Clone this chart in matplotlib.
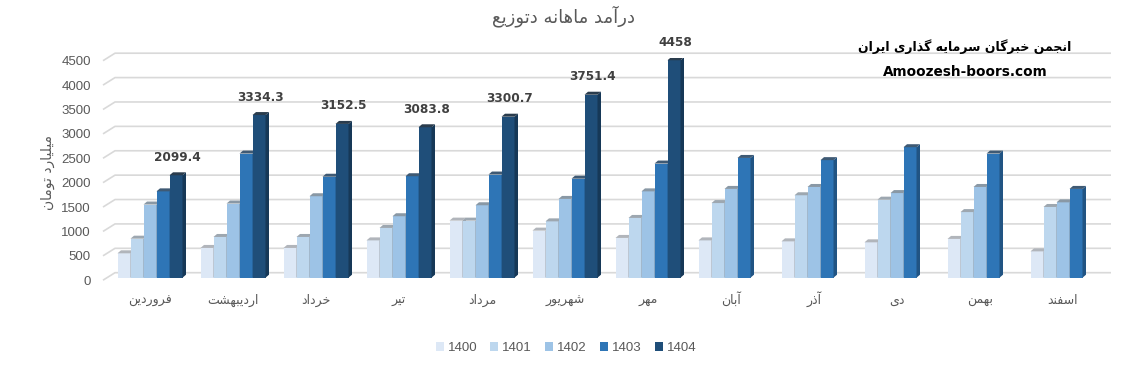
# -*- coding: utf-8 -*-
from matplotlib import pyplot as plt
from matplotlib.patches import Polygon, Patch
import numpy as np

# data
months = ['فروردین', 'اردیبهشت', 'خرداد', 'تیر', 'مرداد', 'شهریور',
          'مهر', 'آبان', 'آذر', 'دی', 'بهمن', 'اسفند']
years = ['1400', '1401', '1402', '1403', '1404']
v1400 = [500, 610, 610, 765, 1170, 965, 815, 765, 745, 725, 795, 540]
v1401 = [800, 835, 835, 1020, 1170, 1155, 1225, 1530, 1690, 1600, 1345, 1450]
v1402 = [1500, 1520, 1670, 1260, 1485, 1615, 1770, 1820, 1860, 1735, 1860, 1545]
v1403 = [1770, 2545, 2070, 2080, 2115, 2030, 2340, 2455, 2410, 2675, 2545, 1820]
v1404 = [2099.4, 3334.3, 3152.5, 3083.8, 3300.7, 3751.4, 4458,
         np.nan, np.nan, np.nan, np.nan, np.nan]
series = [v1400, v1401, v1402, v1403, v1404]
colors = ['#dde8f6', '#bdd7ee', '#9dc3e6', '#2e75b6', '#1f4e79']
yticks = [0, 500, 1000, 1500, 2000, 2500, 3000, 3500, 4000, 4500]

title = 'درآمد ماهانه دتوزیع'
ylabel = 'میلیارد تومان'
brand1 = 'انجمن خبرگان سرمایه گذاری ایران'
brand2 = 'Amoozesh-boors.com'

# simple arabic shaping (matplotlib has no shaping)
FORMS = {
  'ا': (0xFE8D, 0xFE8E), 'آ': (0xFE81, 0xFE82),
  'ب': (0xFE8F, 0xFE90, 0xFE91, 0xFE92), 'ت': (0xFE95, 0xFE96, 0xFE97, 0xFE98),
  'ج': (0xFE9D, 0xFE9E, 0xFE9F, 0xFEA0), 'خ': (0xFEA5, 0xFEA6, 0xFEA7, 0xFEA8),
  'د': (0xFEA9, 0xFEAA), 'ذ': (0xFEAB, 0xFEAC), 'ر': (0xFEAD, 0xFEAE),
  'ز': (0xFEAF, 0xFEB0),
  'س': (0xFEB1, 0xFEB2, 0xFEB3, 0xFEB4), 'ش': (0xFEB5, 0xFEB6, 0xFEB7, 0xFEB8),
  'ع': (0xFEC9, 0xFECA, 0xFECB, 0xFECC), 'ف': (0xFED1, 0xFED2, 0xFED3, 0xFED4),
  'ل': (0xFEDD, 0xFEDE, 0xFEDF, 0xFEE0), 'م': (0xFEE1, 0xFEE2, 0xFEE3, 0xFEE4),
  'ن': (0xFEE5, 0xFEE6, 0xFEE7, 0xFEE8), 'ه': (0xFEE9, 0xFEEA, 0xFEEB, 0xFEEC),
  'و': (0xFEED, 0xFEEE),
  'ی': (0xFBFC, 0xFBFD, 0xFBFE, 0xFBFF), 'گ': (0xFB92, 0xFB93, 0xFB94, 0xFB95),
}

def shape(text):
  out = []
  for i, c in enumerate(text):
    if c not in FORMS:
      out.append(c)
      continue
    f = FORMS[c]
    prev = text[i-1] if i > 0 else None
    nxt = text[i+1] if i + 1 < len(text) else None
    jp = prev in FORMS and len(FORMS[prev]) == 4
    jn = len(f) == 4 and nxt in FORMS
    if jp and jn:
      out.append(chr(f[3]))
    elif jp:
      out.append(chr(f[1]))
    elif jn:
      out.append(chr(f[2]))
    else:
      out.append(chr(f[0]))
  return ''.join(reversed(out))

def shade(c, f, gray_mix=0.0):
  c = c.lstrip('#')
  rgb = np.array([int(c[j:j+2], 16) for j in (0, 2, 4)]) / 255.0
  rgb = rgb * f
  g = rgb.mean()
  rgb = rgb * (1 - gray_mix) + g * gray_mix
  return tuple(np.clip(rgb, 0, 1))

W, H = 1137, 365
fig = plt.figure(figsize=(W/100, H/100), dpi=100)
# axes in pixel geometry
L, R, B, T = 103, 1113, 277.7, 58.2
ax = fig.add_axes([L/W, 1 - B/H, (R - L)/W, (B - T)/H])
x0, x1 = (L - 150)/83.0, (R - 150)/83.0
ax.set_xlim(x0, x1)
ax.set_ylim(0, 4500)
ux = (x1 - x0)/(R - L)
uy = 4500/(B - T)

gray = '#595959'

# back wall gridlines with the left slanted part
for v in yticks:
  ax.plot([x0, x0 + 12*ux, x0 + 1008*ux], [v - 2.5*uy, v + 5*uy, v + 5*uy],
          color='#d9d9d9', lw=1.2, zorder=1, clip_on=False, solid_capstyle='butt')
  ax.text(x0 - 12*ux, v - 4*uy, str(v), ha='right', va='center',
          fontsize=9.5, color=gray, family='Liberation Sans')

w = 13/83.0
dx, dy = 3.5*ux, 3*uy
xs = np.arange(len(months))
for k, vals in enumerate(series):
  left = xs + (k - 2.5)*w
  ax.bar(left, vals, width=w, align='edge', color=colors[k], zorder=3 + 2*k,
         edgecolor='none')
  for xl, v in zip(left, vals):
    if np.isnan(v):
      continue
    side = Polygon([(xl + w, 0), (xl + w + dx, dy), (xl + w + dx, v + dy), (xl + w, v)],
                   closed=True, color=shade(colors[k], 0.72), zorder=3.5 + 2*k, lw=0)
    top = Polygon([(xl, v), (xl + w, v), (xl + w + dx, v + dy), (xl + dx, v + dy)],
                  closed=True, color=shade(colors[k], 0.78, 0.5), zorder=3.5 + 2*k, lw=0)
    ax.add_patch(side)
    ax.add_patch(top)
    if k == 4:
      ax.text(xl + w/2 + dx/2, v + dy + 15*uy, '%g' % v, ha='center', va='center',
              fontsize=8.7, fontweight='bold', color='#404040', family='DejaVu Sans',
              zorder=20, clip_on=False)

# month names, on a common baseline
for i, m in enumerate(months):
  ax.text(i, -26*uy, shape(m), ha='center', va='baseline', fontsize=9,
          color=gray, family='DejaVu Sans', clip_on=False)
ax.set_xticks([])
ax.set_yticks([])
for s in ax.spines.values():
  s.set_visible(False)

fig.text(48/W, 1 - 172/H, shape(ylabel), rotation=90, ha='center', va='center',
         fontsize=10, color=gray, family='DejaVu Sans')
fig.text(563/W, 1 - 16/H, shape(title), ha='center', va='center',
         fontsize=13, color=gray, family='DejaVu Sans')
fig.text(965/W, 1 - 47/H, shape(brand1), ha='center', va='center',
         fontsize=9, fontweight='bold', color='black', family='DejaVu Sans')
fig.text(965/W, 1 - 72/H, brand2, ha='center', va='center',
         fontsize=9.8, fontweight='bold', color='black', family='DejaVu Sans')

handles = [Patch(facecolor=c, edgecolor='none') for c in colors]
leg = fig.legend(handles, years, loc='center', bbox_to_anchor=(566/W, 1 - 348/H),
                 ncol=5, frameon=False, handlelength=0.6, handleheight=0.6,
                 handletextpad=0.3, columnspacing=1.0,
                 prop={'family': 'Liberation Sans', 'size': 9.5})
for t in leg.get_texts():
  t.set_color(gray)

fig.savefig('out.png', dpi=100)
plt.close()
